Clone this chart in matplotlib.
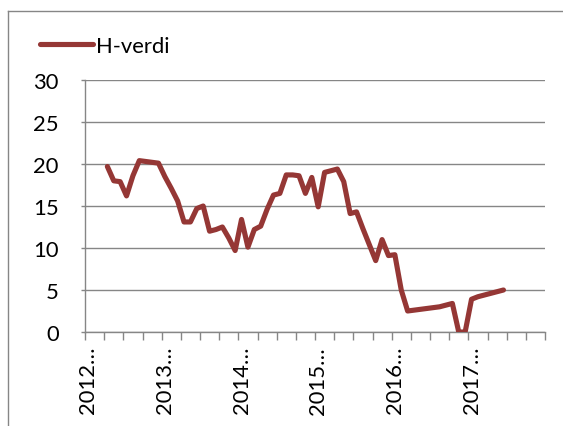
import matplotlib
matplotlib.use("Agg")
import matplotlib.pyplot as plt
from matplotlib.lines import Line2D
import numpy as np

plt.rcParams['font.family'] = ['Lato', 'DejaVu Sans']

# Category axis: monthly, Jan 2012 .. Dec 2017 (72 categories)
years = [2012, 2013, 2014, 2015, 2016, 2017]
n_categories = 72
year_labels = [f"{y}\u2026" for y in years]

series_name = "H-verdi"
start_index = 3  # April 2012
h_verdi = [19.7, 18.0, 17.9, 16.2, 18.6, 20.4, 20.3, 20.2, 20.1,          # 2012 Apr-Dec
           18.5, 17.1, 15.6, 13.1, 13.1, 14.7, 15.0, 12.0, 12.2, 12.5, 11.2, 9.7,   # 2013
           13.4, 10.1, 12.2, 12.6, 14.6, 16.3, 16.5, 18.7, 18.7, 18.6, 16.5, 18.4,  # 2014
           14.9, 19.0, 19.2, 19.4, 17.9, 14.1, 14.3, 12.3, 10.4, 8.5, 11.0, 9.1,    # 2015
           9.2, 5.0, 2.5, 2.6, 2.7, 2.8, 2.9, 3.0, 3.2, 3.4, 0.0, 0.0,              # 2016
           3.9, 4.2, 4.4, 4.6, 4.8, 5.0]                                         # 2017 Jan-Jun
y_ticks = [0, 5, 10, 15, 20, 25, 30]

W, H = 563, 427
gray = '#868686'
line_color = '#953735'
fs = 15.8

fig = plt.figure(figsize=(W / 100, H / 100), dpi=100)
ax = fig.add_axes([85 / W, 1 - 333 / H, (545 - 85) / W, (333 - 81) / H])

x = np.arange(start_index, start_index + len(h_verdi))
ax.plot(x, h_verdi, color=line_color, lw=3.7, solid_capstyle='round',
        solid_joinstyle='round', label=series_name, zorder=3)

ax.set_xlim(-0.5, n_categories - 0.5)
ax.set_ylim(0, 30)

for s in ['top', 'right']:
    ax.spines[s].set_visible(False)
for s in ['left', 'bottom']:
    ax.spines[s].set_color(gray)
    ax.spines[s].set_linewidth(1.0)

ax.set_yticks(y_ticks)
ax.set_yticklabels([str(v) for v in y_ticks], fontsize=fs)
ax.yaxis.grid(True, color=gray, lw=1.0)
ax.set_axisbelow(True)
ax.tick_params(axis='y', length=3, width=1.0, color=gray, pad=16)

ax.set_xticks(np.arange(0, n_categories, 12))
ax.set_xticklabels(year_labels, rotation=90, fontsize=fs, va='top', ha='center')
ax.set_xticks(np.arange(-0.5, n_categories, 3), minor=True)
ax.tick_params(axis='x', which='major', length=0, pad=10)
ax.tick_params(axis='x', which='minor', length=5.8, width=1.0, color=gray)

leg = ax.legend(loc='center left', bbox_to_anchor=(40 / W, 1 - 47 / H),
                bbox_transform=fig.transFigure, frameon=False, borderpad=0,
                borderaxespad=0, handlelength=2.4, handletextpad=0.15,
                fontsize=fs)

# chart area border (left and top visible)
fig.add_artist(Line2D([8 / W, 8 / W], [0, 1 - 12 / H], transform=fig.transFigure,
                      color=gray, lw=1.0))
fig.add_artist(Line2D([8 / W, 1], [1 - 12 / H, 1 - 12 / H], transform=fig.transFigure,
                      color=gray, lw=1.0))

fig.savefig("out.png", dpi=100)
